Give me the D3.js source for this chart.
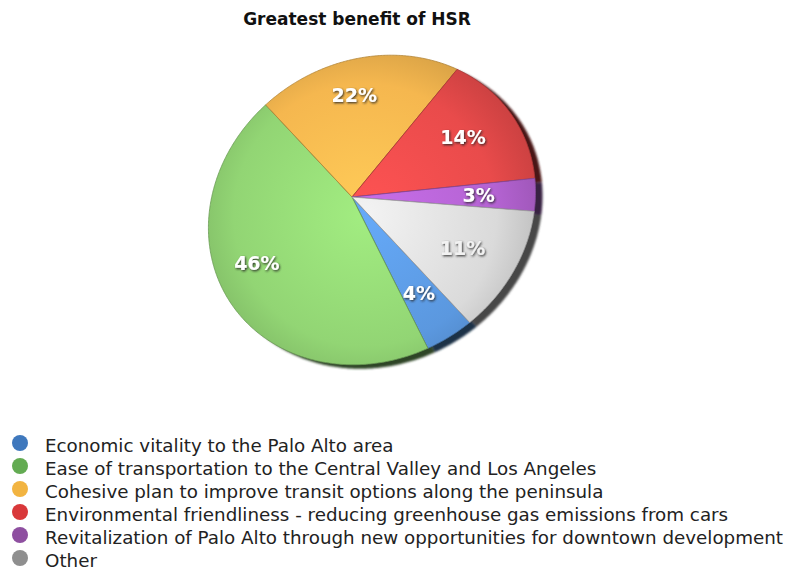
<html>
<script src='https://d3js.org/d3.v7.min.js'></script>
<style>
  body { margin: 0; background: #fff; }
  .legend text { font-family: "DejaVu Sans", sans-serif; font-size: 18.3px; fill: #222; }
</style>
<body onload='init()'>
<svg width=790 height=574></svg>

<script>
// Data
var categories = ["Economic vitality to the Palo Alto area",
                  "Ease of transportation to the Central Valley and Los Angeles",
                  "Cohesive plan to improve transit options along the peninsula",
                  "Environmental friendliness - reducing greenhouse gas emissions from cars",
                  "Revitalization of Palo Alto through new opportunities for downtown development",
                  "Other"];
var values = [4, 46, 22, 14, 3, 11];
var sliceColors = ["#5b98df", "#92d574", "#f5b74f", "#e94b4b", "#b463d2", "#dadada"];
var legendColors = ["#3f78bd", "#63ab52", "#f2b441", "#d9383a", "#8e4fa0", "#8f8f8f"];

function init() {
    var svg = d3.select("svg");
    var defs = svg.append("defs");

    // Tilted disc: apex of slices, linear part and perspective part
    var apex = [352, 197];
    var A = [[160, -10], [-10, 152]];
    var k = [0.1275, 0.0917];
    function proj(theta, r) {
        var ux = r * Math.sin(theta), uy = -r * Math.cos(theta);
        var w = 1 - (k[0] * ux + k[1] * uy);
        var px = ux / w, py = uy / w;
        return [apex[0] + A[0][0] * px + A[0][1] * py,
                apex[1] + A[1][0] * px + A[1][1] * py];
    }

    var a0 = 138 * Math.PI / 180;
    var pie = d3.pie().sort(null).value(function(d) { return d; })
        .startAngle(a0).endAngle(a0 + 2 * Math.PI);
    var arcs = pie(values);

    var line = d3.line().curve(d3.curveLinearClosed);
    function slicePath(d) {
        var pts = [apex];
        var n = Math.max(2, Math.ceil((d.endAngle - d.startAngle) / 0.01));
        for (var i = 0; i <= n; i++) {
            pts.push(proj(d.startAngle + (d.endAngle - d.startAngle) * i / n, 1));
        }
        return line(pts);
    }

    // gradients for top faces
    arcs.forEach(function(d, i) {
        var g = defs.append("radialGradient").attr("id", "g" + i)
            .attr("gradientUnits", "userSpaceOnUse")
            .attr("cx", 365).attr("cy", 215).attr("r", 175);
        g.append("stop").attr("offset", "0%").attr("stop-color", d3.color(sliceColors[i]).brighter(0.3));
        g.append("stop").attr("offset", "75%").attr("stop-color", sliceColors[i]);
        g.append("stop").attr("offset", "100%").attr("stop-color", d3.color(sliceColors[i]).darker(0.35));
    });

    var blur = defs.append("filter").attr("id", "blur");
    blur.append("feGaussianBlur").attr("stdDeviation", 1.2);

    var shadow = defs.append("filter").attr("id", "shadow")
        .attr("x", "-20%").attr("y", "-20%").attr("width", "140%").attr("height", "140%");
    shadow.append("feDropShadow").attr("dx", 1).attr("dy", 1.2)
        .attr("stdDeviation", 0.9).attr("flood-color", "#222").attr("flood-opacity", 0.9);

    // side of the disc
    svg.append("g").attr("filter", "url(#blur)")
        .selectAll("path").data(arcs).enter().append("path")
        .attr("transform", "translate(7,4)")
        .attr("d", slicePath)
        .attr("fill", function(d, i) { return d3.color(sliceColors[i]).darker(3.2); });

    // top faces
    svg.append("g").selectAll("path").data(arcs).enter().append("path")
        .attr("d", slicePath)
        .attr("fill", function(d, i) { return "url(#g" + i + ")"; })
        .attr("stroke", function(d, i) { return d3.color(sliceColors[i]).darker(0.9); })
        .attr("stroke-width", 0.8)
        .attr("stroke-linejoin", "round");

    // percentage labels
    svg.append("g").selectAll("text").data(arcs).enter().append("text")
        .attr("x", function(d) { return proj((d.startAngle + d.endAngle) / 2, 0.72)[0]; })
        .attr("y", function(d) { return proj((d.startAngle + d.endAngle) / 2, 0.72)[1]; })
        .attr("dy", "0.36em")
        .attr("text-anchor", "middle")
        .attr("font-family", "DejaVu Sans, sans-serif")
        .attr("font-weight", "bold")
        .attr("font-size", 19)
        .attr("fill", function(d, i) { return i == 5 ? "#f2f2f2" : "#fff"; })
        .attr("filter", "url(#shadow)")
        .text(function(d) { return d.data + "%"; });

    // title
    svg.append("text")
        .attr("x", 357).attr("y", 25)
        .attr("text-anchor", "middle")
        .attr("font-family", "DejaVu Sans, sans-serif")
        .attr("font-weight", "bold")
        .attr("font-size", 17)
        .attr("fill", "#111")
        .text("Greatest benefit of HSR");

    // legend
    var y = d3.scaleBand().domain(d3.range(categories.length)).range([434, 572]);
    var leg = svg.append("g").attr("class", "legend")
        .selectAll("g").data(categories).enter().append("g")
        .attr("transform", function(d, i) { return "translate(0," + y(i) + ")"; });
    leg.append("circle").attr("cx", 20).attr("cy", 9).attr("r", 8)
        .attr("fill", function(d, i) { return legendColors[i]; });
    leg.append("text").attr("x", 45).attr("y", 17.5).text(function(d) { return d; });
}
</script>
</body>
</html>
